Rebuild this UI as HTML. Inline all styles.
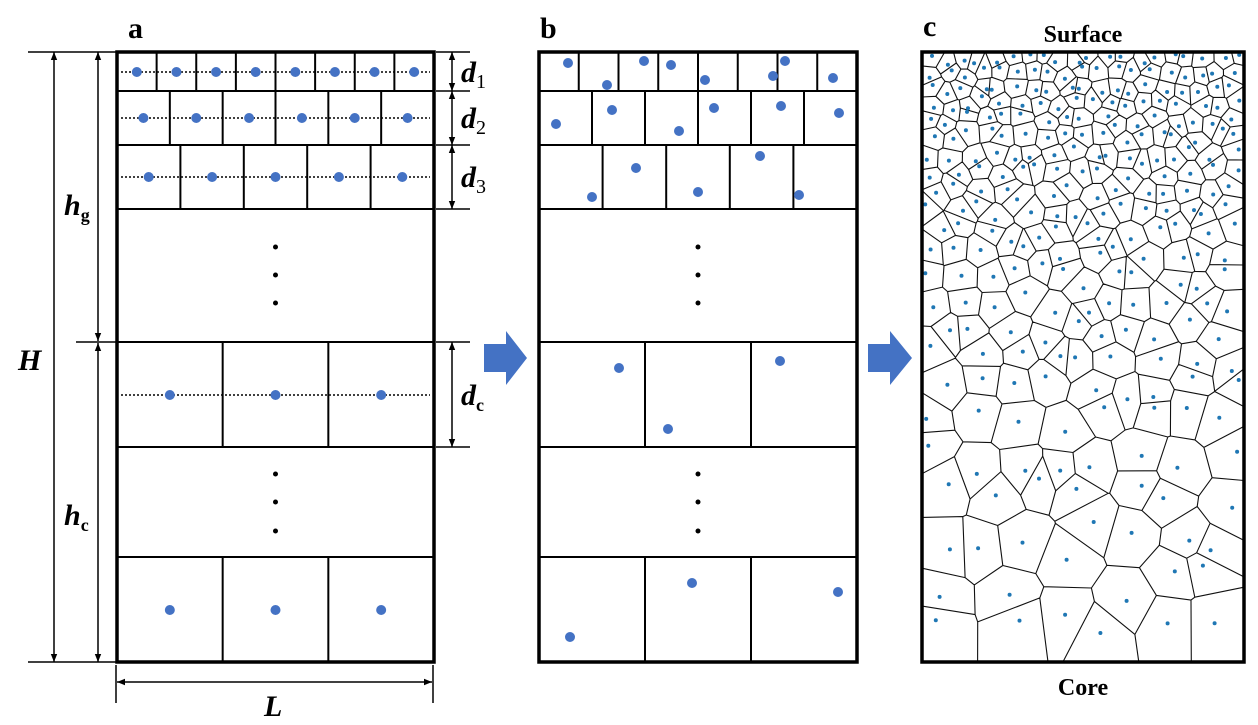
<!DOCTYPE html>
<html><head><meta charset="utf-8"><style>
html,body{margin:0;padding:0;background:#fff;}
svg{display:block;font-family:"Liberation Serif",serif;}
</style></head><body>
<svg id="fig" width="1258" height="725" viewBox="0 0 1258 725" xmlns="http://www.w3.org/2000/svg">
<defs>
<marker id="ah" viewBox="0 0 10 10" refX="10" refY="5" markerWidth="8" markerHeight="8" orient="auto-start-reverse" markerUnits="userSpaceOnUse"><path d="M0,1 L10,5 L0,9 Z" fill="#000"/></marker>
</defs>
<g id="pa"></g>
<g id="pb"></g>
<g id="pc"></g>
<g id="ann">
<text x="128" y="38" font-size="30" font-weight="bold">a</text>
<text x="540" y="38" font-size="30" font-weight="bold">b</text>
<text x="923" y="36" font-size="30" font-weight="bold">c</text>
<text x="1083" y="42" font-size="24" font-weight="bold" text-anchor="middle">Surface</text>
<text x="1083" y="695" font-size="24" font-weight="bold" text-anchor="middle">Core</text>
<text x="18" y="370" font-size="30" font-weight="bold" font-style="italic">H</text>
<text x="64" y="215" font-size="30" font-weight="bold" font-style="italic">h<tspan font-size="18" font-style="normal" dy="6">g</tspan></text>
<text x="64" y="525" font-size="30" font-weight="bold" font-style="italic">h<tspan font-size="18" font-style="normal" dy="6">c</tspan></text>
<text x="461" y="82" font-size="30" font-weight="bold" font-style="italic">d<tspan font-size="20" font-weight="normal" font-style="normal" dy="6">1</tspan></text>
<text x="461" y="128" font-size="30" font-weight="bold" font-style="italic">d<tspan font-size="20" font-weight="normal" font-style="normal" dy="6">2</tspan></text>
<text x="461" y="187" font-size="30" font-weight="bold" font-style="italic">d<tspan font-size="20" font-weight="normal" font-style="normal" dy="6">3</tspan></text>
<text x="461" y="405" font-size="30" font-weight="bold" font-style="italic">d<tspan font-size="18" font-style="normal" dy="6">c</tspan></text>
<text x="264" y="716" font-size="30" font-weight="bold" font-style="italic">L</text>
<path d="M484,344 L506,344 L506,331 L527,358 L506,385 L506,372 L484,372 Z" fill="#4472C4"/>
<path d="M868,344 L890,344 L890,331 L912,358 L890,385 L890,372 L868,372 Z" fill="#4472C4"/>
</g>
</svg>
<script>
const NS="http://www.w3.org/2000/svg";
const rowEdges=[52,91,145,209,342,447,557,662];
const rowCells=[8,6,5,0,3,0,3];
const midDotsY=[247,275,303,474,502,531];
const bDots=[[568,63],[607,85],[644,61],[671,65],[705,80],[773,76],[785,61],[833,78],
[556,124],[612,110],[679,131],[714,108],[781,106],[839,113],
[592,197],[636,168],[698,192],[760,156],[799,195],
[619,368],[668,429],[780,361],[570,637],[692,583],[838,592]];
const aDotY=[72,118,177,null,395,null,610];

function el(tag,attrs,parent,name){const e=document.createElementNS(NS,tag);for(const k in attrs)e.setAttribute(k,attrs[k]);


parent.appendChild(e);return e;}

function panel(g,x0,x1,isA){
  for(let i=1;i<rowEdges.length-1;i++) el('line',{x1:x0,x2:x1,y1:rowEdges[i],y2:rowEdges[i],stroke:'#000','stroke-width':2},g,'row-boundary');
  for(let r=0;r<rowCells.length;r++){const n=rowCells[r];if(!n)continue;const w=(x1-x0)/n;
    for(let c=1;c<n;c++) el('line',{x1:x0+c*w,x2:x0+c*w,y1:rowEdges[r],y2:rowEdges[r+1],stroke:'#000','stroke-width':2},g,'cell-boundary');
    if(isA){const y=aDotY[r];
      if(r<5) el('line',{x1:x0+4,x2:x1-4,y1:y,y2:y,stroke:'#000','stroke-width':1.5,'stroke-dasharray':'2,2'},g,'center-line');
      for(let c=0;c<n;c++) el('circle',{cx:x0+(c+0.5)*w,cy:y,r:5,fill:'#4472C4'},g,'grain-center');}
  }
  const mx=(x0+x1)/2;
  midDotsY.forEach(y=>el('circle',{cx:mx,cy:y,r:2.5,fill:'#000'},g,'ellipsis-dot'));
  el('rect',{x:x0,y:52,width:x1-x0,height:610,fill:'none',stroke:'#000','stroke-width':3.5},g,'panel-frame');
}
const pa=document.getElementById('pa'),pb=document.getElementById('pb'),pc=document.getElementById('pc');
panel(pa,117,434,true);
panel(pb,539,857,false);
bDots.forEach(d=>el('circle',{cx:d[0],cy:d[1],r:5,fill:'#4472C4'},pb,'grain-center'));

const dims=[[28,116,52],[28,116,662],[76,116,342],[436,470,52],[436,470,91],[436,470,145],[436,470,209],[436,470,342],[436,470,447]];
dims.forEach(d=>el('line',{x1:d[0],x2:d[1],y1:d[2],y2:d[2],stroke:'#000','stroke-width':1.5},pa,'dimension-tick'));
const arrowsV=[[54,52,662],[98,52,341],[98,343,662],[452,52,91],[452,91,145],[452,145,209],[452,342,447]];
arrowsV.forEach(a=>el('line',{x1:a[0],x2:a[0],y1:a[1],y2:a[2],stroke:'#000','stroke-width':1.5,'marker-start':'url(#ah)','marker-end':'url(#ah)'},pa,'dimension-arrow'));
el('line',{x1:116,x2:116,y1:665,y2:703,stroke:'#000','stroke-width':1.5},pa,'dimension-tick');
el('line',{x1:433,x2:433,y1:665,y2:703,stroke:'#000','stroke-width':1.5},pa,'dimension-tick');
el('line',{x1:117,x2:432,y1:682,y2:682,stroke:'#000','stroke-width':1.5,'marker-start':'url(#ah)','marker-end':'url(#ah)'},pa,'L-arrow');

const CX0=922,CX1=1244,CY0=52,CY1=662;
let st=12345;function rnd(){st=(st*1103515245+12345)%2147483648;return st/2147483648;}
function sp(y){const t=(y-CY0)/(CY1-CY0);return 16+44*Math.pow(t,1.3);}
const seeds=[];
let y=CY0+sp(CY0)*0.4;
while(y<CY1){const s=sp(y);const n=Math.max(1,Math.round((CX1-CX0)/s));const w=(CX1-CX0)/n;
  for(let i=0;i<n;i++){seeds.push([CX0+(i+0.1+0.8*rnd())*w,Math.min(CY1-2,y+(rnd()-0.5)*s*0.8),s]);}
  y+=s*0.9;}
function clip(poly,a,b,c){const out=[];for(let i=0;i<poly.length;i++){const p=poly[i],q=poly[(i+1)%poly.length];
  const fp=a*p[0]+b*p[1]-c,fq=a*q[0]+b*q[1]-c;
  if(fp<=0)out.push(p);
  if((fp<0&&fq>0)||(fp>0&&fq<0)){const t=fp/(fp-fq);out.push([p[0]+t*(q[0]-p[0]),p[1]+t*(q[1]-p[1])]);}}
  return out;}
let d='';
for(let i=0;i<seeds.length;i++){const [px,py,s]=seeds[i];
  let poly=[[CX0,CY0],[CX1,CY0],[CX1,CY1],[CX0,CY1]];
  const R=s*4;
  for(let j=0;j<seeds.length;j++){if(i===j)continue;const [qx,qy]=seeds[j];
    if(Math.abs(qx-px)>R||Math.abs(qy-py)>R)continue;
    const a=qx-px,b=qy-py,c=(qx*qx+qy*qy-px*px-py*py)/2;
    poly=clip(poly,a,b,c);if(poly.length<3)break;}
  if(poly.length>=3)d+='M'+poly.map(p=>p[0].toFixed(1)+','+p[1].toFixed(1)).join('L')+'Z';
}
el('path',{d:d,fill:'none',stroke:'#111','stroke-width':1.1,'stroke-linejoin':'round'},pc,'voronoi-grains');
seeds.forEach(s=>el('circle',{cx:s[0].toFixed(1),cy:s[1].toFixed(1),r:2,fill:'#1f77b4'},pc,'grain-seed'));
el('rect',{x:CX0,y:CY0,width:CX1-CX0,height:CY1-CY0,fill:'none',stroke:'#000','stroke-width':3.5},pc,'panel-frame');
</script>
</body></html>
